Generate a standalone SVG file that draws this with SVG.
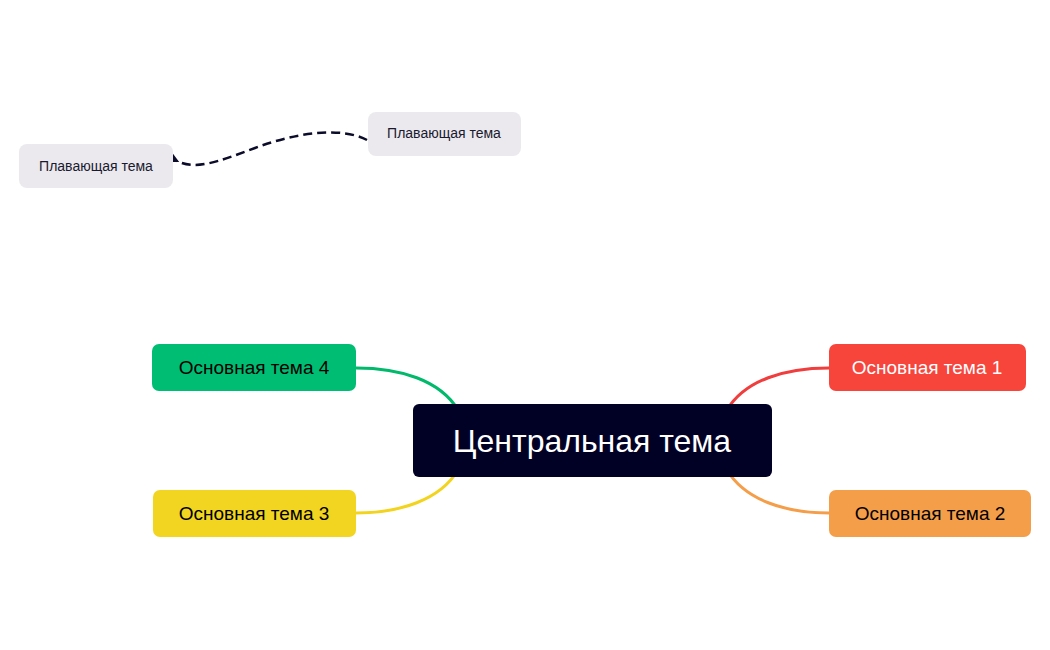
<svg xmlns="http://www.w3.org/2000/svg" width="1050" height="650" viewBox="0 0 1050 650">
<style>
text{font-family:"Liberation Sans",Arial,sans-serif;dominant-baseline:central;text-anchor:middle}
.m{font-size:19px;fill:#000}
.f{font-size:14px;fill:#1a1a2e}
.c{fill:none;stroke-width:3;stroke-linecap:round}
</style>
<defs><marker id="a" viewBox="0 0 10 10" refX="2" refY="5" markerWidth="5" markerHeight="5" orient="auto"><path d="M10,0 L0,5 L10,10 Z" fill="#0b0b2a"/></marker></defs>
<rect width="1050" height="650" fill="#fff"/>
<g id="connectors">
<path class="c" stroke="#00b96b" d="M356,368 C400,368 440,380 458,410"/>
<path class="c" stroke="#f03d3d" d="M829,368 C785,368 745,380 727,410"/>
<path class="c" stroke="#f2d41f" d="M356,513 C400,513 440,500 458,470"/>
<path class="c" stroke="#f59e4a" d="M829,513 C785,513 745,500 727,470"/>
<path d="M367,140 C340,126 295,133 255,148 C215,163 195,170 177,161" fill="none" stroke="#0b0b2a" stroke-width="2.5" stroke-dasharray="9,5" marker-end="url(#a)"/>
</g>
<g id="center"><rect x="413" y="404" width="359" height="73" rx="6" fill="#000124"/><text x="592" y="441" font-size="32" fill="#fff">Центральная тема</text></g>
<g id="t1"><rect x="829" y="344" width="197" height="47" rx="7" fill="#f7453c"/><text class="m" x="927" y="367" fill="#fff" style="fill:#fff">Основная тема 1</text></g>
<g id="t2"><rect x="829" y="490" width="202" height="47" rx="7" fill="#f59e4a"/><text class="m" x="930" y="513">Основная тема 2</text></g>
<g id="t3"><rect x="153" y="490" width="203" height="47" rx="7" fill="#f1d520"/><text class="m" x="254" y="513">Основная тема 3</text></g>
<g id="t4"><rect x="152" y="344" width="204" height="47" rx="7" fill="#00bd74"/><text class="m" x="254" y="367">Основная тема 4</text></g>
<g id="f1"><rect x="19" y="144" width="154" height="44" rx="8" fill="#ebe9ee"/><text class="f" x="96" y="166">Плавающая тема</text></g>
<g id="f2"><rect x="368" y="112" width="153" height="44" rx="8" fill="#ebe9ee"/><text class="f" x="444" y="133">Плавающая тема</text></g>
</svg>
